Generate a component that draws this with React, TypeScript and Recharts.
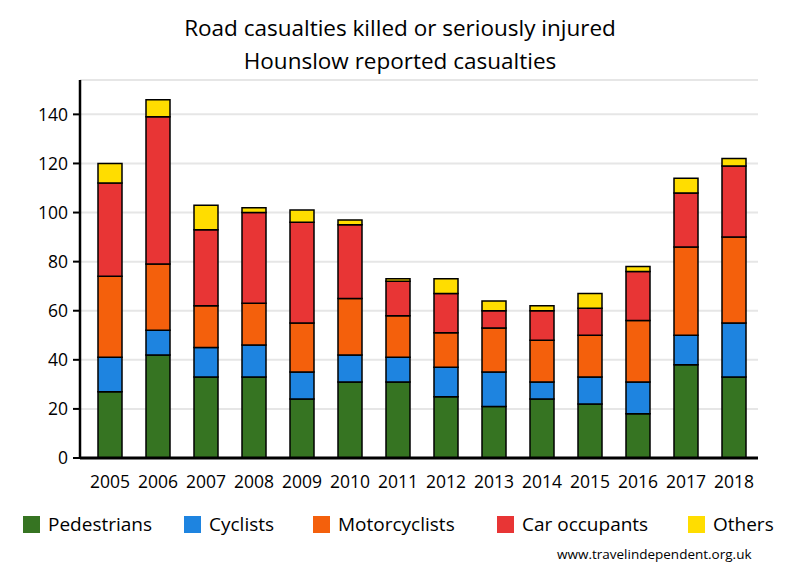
import React from "react";
import { BarChart, Bar, XAxis, YAxis, CartesianGrid } from "recharts";

const years = ["2005","2006","2007","2008","2009","2010","2011","2012","2013","2014","2015","2016","2017","2018"];
const pedestrians = [27, 42, 33, 33, 24, 31, 31, 25, 21, 24, 22, 18, 38, 33];
const cyclists = [14, 10, 12, 13, 11, 11, 10, 12, 14, 7, 11, 13, 12, 22];
const motorcyclists = [33, 27, 17, 17, 20, 23, 17, 14, 18, 17, 17, 25, 36, 35];
const carOccupants = [38, 60, 31, 37, 41, 30, 14, 16, 7, 12, 11, 20, 22, 29];
const others = [8, 7, 10, 2, 5, 2, 1, 6, 4, 2, 6, 2, 6, 3];
const yTicks = [0, 20, 40, 60, 80, 100, 120, 140];

const series = [
  { key: "ped", name: "Pedestrians", values: pedestrians, color: "#367422" },
  { key: "cyc", name: "Cyclists", values: cyclists, color: "#1e84e0" },
  { key: "moto", name: "Motorcyclists", values: motorcyclists, color: "#f4600c" },
  { key: "car", name: "Car occupants", values: carOccupants, color: "#e83535" },
  { key: "oth", name: "Others", values: others, color: "#ffdd00" },
];

const data = years.map((y, i) => {
  const row: any = { year: y };
  series.forEach((s) => (row[s.key] = s.values[i]));
  return row;
});

const FONT = "'Open Sans', sans-serif";

const legendPos = [23, 184, 313, 497, 688];

export default function App() {
  return (
    <div style={{ position: "relative", margin: -8, width: 800, height: 580 }}>
      <BarChart
        width={800}
        height={580}
        data={data}
        margin={{ top: 80, right: 42, left: 26, bottom: 92 }}
        barSize={24}
      >
        <CartesianGrid vertical={false} stroke="#e6e6e6" strokeWidth={2} />
        <XAxis
          dataKey="year"
          tickLine={false}
          tickMargin={12}
          height={30}
          padding={{ left: 6, right: 0 }}
          axisLine={{ stroke: "#000", strokeWidth: 3 }}
          tick={{ fill: "#000", fontSize: 17.5, fontFamily: FONT }}
          interval={0}
        />
        <YAxis
          width={54}
          domain={[0, 154]}
          ticks={yTicks}
          tickSize={7}
          tickMargin={5}
          tickLine={{ stroke: "#000", strokeWidth: 2 }}
          axisLine={{ stroke: "#000", strokeWidth: 2.5 }}
          tick={{ fill: "#000", fontSize: 17.5, fontFamily: FONT }}
        />
        {series.map((s) => (
          <Bar
            key={s.key}
            dataKey={s.key}
            name={s.name}
            stackId="a"
            fill={s.color}
            stroke="#000"
            strokeWidth={1.5}
            isAnimationActive={false}
          />
        ))}
      </BarChart>
      <div
        style={{
          position: "absolute",
          left: 0,
          top: 11,
          width: 800,
          textAlign: "center",
          fontFamily: FONT,
          fontSize: 22.5,
          lineHeight: "33px",
          color: "#000",
        }}
      >
        <div>Road casualties killed or seriously injured</div>
        <div>Hounslow reported casualties</div>
      </div>
      {series.map((s, i) => (
        <div
          key={s.key}
          style={{
            position: "absolute",
            left: legendPos[i],
            top: 509,
            display: "flex",
            alignItems: "center",
            height: 30,
            fontFamily: FONT,
          }}
        >
          <div style={{ width: 17, height: 17, background: s.color, marginRight: 8 }} />
          <span style={{ fontSize: 19, color: "#000" }}>{s.name}</span>
        </div>
      ))}
      <div
        style={{
          position: "absolute",
          left: 557,
          top: 545,
          fontFamily: FONT,
          fontSize: 13.5,
          color: "#000",
        }}
      >
        www.travelindependent.org.uk
      </div>
    </div>
  );
}
